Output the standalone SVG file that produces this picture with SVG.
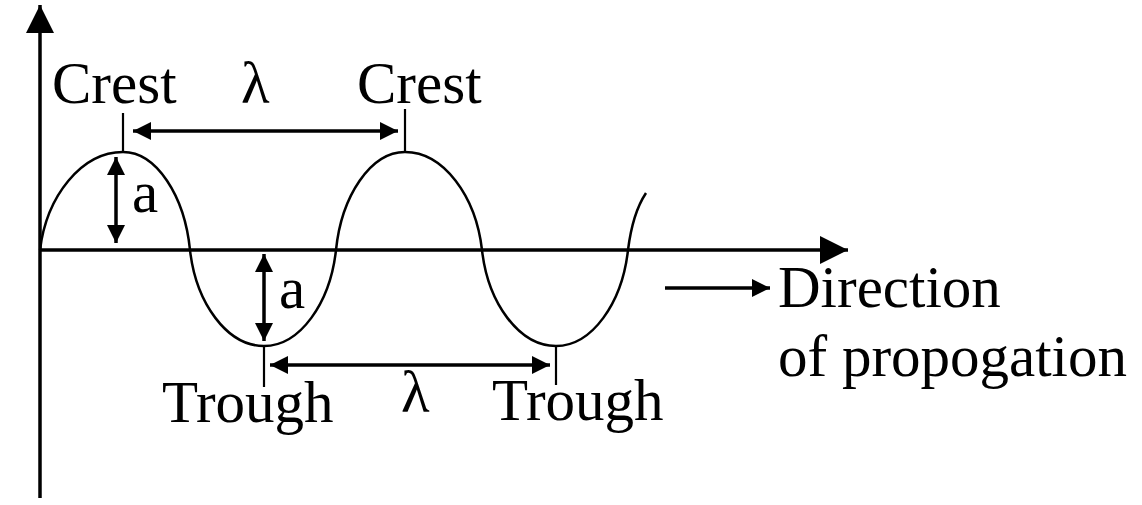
<svg xmlns="http://www.w3.org/2000/svg" width="1142" height="505" viewBox="0 0 1142 505">
<style>
text{font-family:"Liberation Serif","Times New Roman",serif;font-size:59px;fill:#000}
.ax{stroke:#000;stroke-width:3.5;fill:none}
.ar{stroke:#000;stroke-width:3.5;fill:none}
.tk{stroke:#000;stroke-width:2.2;fill:none}
.wave{stroke:#000;stroke-width:2.5;fill:none}
</style>
<defs>
<marker id="big" markerUnits="userSpaceOnUse" markerWidth="30" markerHeight="30" refX="28" refY="14" orient="auto-start-reverse" viewBox="0 0 30 28"><path d="M0,0 L28,14 L0,28 Z" fill="#000"/></marker>
<marker id="sm" markerUnits="userSpaceOnUse" markerWidth="18" markerHeight="18" refX="18" refY="9" orient="auto-start-reverse" viewBox="0 0 18 18"><path d="M0,0 L18,9 L0,18 Z" fill="#000"/></marker>
</defs>
<g id="axes">
<line class="ax" x1="40" y1="498" x2="40" y2="5" marker-end="url(#big)"/>
<line class="ax" x1="40" y1="250" x2="848" y2="250" marker-end="url(#big)"/>
</g>
<g id="wave">
<path class="wave" d="M40,250 C46.6,196 81.5,152 123,152 C156.5,152 184.6,196 190,250 C195.9,303 227,346 264,346 C300,346 330.2,303 336,250 C341.5,196 370.5,152 405,152 C443.5,152 475.8,196 482,250 C487.9,303 519,346 556,346 C592,346 622.2,303 628,250 C631.5,222 638,205 646,193"/>
</g>
<g id="ticks">
<line class="tk" x1="123" y1="113" x2="123" y2="152"/>
<line class="tk" x1="405" y1="109" x2="405" y2="152"/>
<line class="tk" x1="264" y1="346" x2="264" y2="387"/>
<line class="tk" x1="556" y1="346" x2="556" y2="385"/>
</g>
<g id="connectors">
<line class="ar" x1="133" y1="131" x2="398" y2="131" marker-start="url(#sm)" marker-end="url(#sm)"/>
<line class="ar" x1="270" y1="365" x2="550" y2="365" marker-start="url(#sm)" marker-end="url(#sm)"/>
<line class="ar" x1="116" y1="157" x2="116" y2="243" marker-start="url(#sm)" marker-end="url(#sm)"/>
<line class="ar" x1="264" y1="254" x2="264" y2="341" marker-start="url(#sm)" marker-end="url(#sm)"/>
<line class="ar" x1="665" y1="288" x2="770" y2="288" marker-end="url(#sm)"/>
</g>
<g id="labels">
<text x="52" y="103">Crest</text>
<text x="357" y="103">Crest</text>
<text x="241" y="103">λ</text>
<text x="401" y="412">λ</text>
<text x="162" y="422">Trough</text>
<text x="492" y="420">Trough</text>
<text x="132" y="212">a</text>
<text x="279" y="308">a</text>
<text x="778" y="307">Direction</text>
<text x="778" y="376">of propogation</text>
</g>
</svg>
